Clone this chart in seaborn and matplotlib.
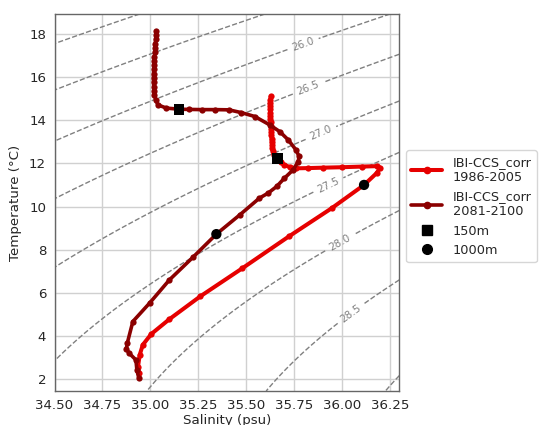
import numpy as np
import pandas as pd
import matplotlib
matplotlib.use("Agg")
import matplotlib.pyplot as plt
from matplotlib.lines import Line2D
import seaborn as sns

# ---------------- data ----------------
sal_hist = [35.628, 35.627, 35.626, 35.625, 35.625, 35.625, 35.626, 35.627, 35.628, 35.629,
            35.630, 35.631, 35.632, 35.633, 35.634, 35.636, 35.638, 35.640, 35.645, 35.664,
            35.680, 35.700, 35.730, 35.763, 35.824, 35.903, 35.999, 36.104, 36.182, 36.200,
            36.182, 36.116, 35.947, 35.723, 35.481, 35.260, 35.100, 35.005, 34.961, 34.945,
            34.936, 34.940]
temp_hist = [15.10, 14.95, 14.80, 14.65, 14.50, 14.35, 14.20, 14.05, 13.90, 13.75,
             13.60, 13.45, 13.30, 13.15, 13.00, 12.85, 12.70, 12.55, 12.40, 12.24,
             12.05, 11.93, 11.82, 11.77, 11.78, 11.80, 11.82, 11.85, 11.87, 11.80,
             11.55, 11.00, 9.92, 8.61, 7.14, 5.83, 4.78, 4.09, 3.59, 3.13,
             2.58, 2.30]

sal_fut = [35.032, 35.030, 35.028, 35.026, 35.025, 35.023, 35.022, 35.020, 35.019, 35.018,
           35.017, 35.017, 35.017, 35.018, 35.019, 35.022, 35.028, 35.040, 35.084, 35.150,
           35.200, 35.270, 35.340, 35.410, 35.476, 35.546, 35.624, 35.676, 35.720, 35.760,
           35.777, 35.772, 35.746, 35.700, 35.660, 35.615, 35.570, 35.467, 35.345, 35.223,
           35.100, 34.996, 34.909, 34.880, 34.875, 34.890, 34.925, 34.930, 34.940]
temp_fut = [18.15, 17.95, 17.75, 17.55, 17.35, 17.15, 16.95, 16.75, 16.55, 16.35,
            16.15, 15.95, 15.75, 15.55, 15.35, 15.15, 14.95, 14.71, 14.56, 14.51,
            14.50, 14.49, 14.49, 14.48, 14.35, 14.17, 13.78, 13.47, 13.09, 12.63,
            12.32, 12.08, 11.70, 11.31, 10.93, 10.62, 10.39, 9.61, 8.72, 7.65,
            6.60, 5.52, 4.67, 3.67, 3.40, 3.20, 2.89, 2.43, 2.05]

# depth markers: [historical, future]
sal_150m = [35.664, 35.150]
temp_150m = [12.24, 14.51]
sal_1000m = [36.116, 35.345]
temp_1000m = [11.00, 8.72]

labels = ["IBI-CCS_corr\n1986-2005", "IBI-CCS_corr\n2081-2100", "150m", "1000m"]
sigma_unlabelled = [25.0, 25.5, 29.0]
sigma_labelled = [26.0, 26.5, 27.0, 27.5, 28.0, 28.5]
label_pos = [(35.799, 17.49), (35.825, 15.49), (35.895, 13.32),
             (35.93, 10.99), (35.99, 8.30), (36.034, 5.21)]

col_hist = "#e60000"
col_fut = "#8b0000"


def sigma0(S, T):
    rho_w = (999.842594 + 6.793952e-2 * T - 9.095290e-3 * T**2 + 1.001685e-4 * T**3
             - 1.120083e-6 * T**4 + 6.536332e-9 * T**5)
    A = 0.824493 - 4.0899e-3 * T + 7.6438e-5 * T**2 - 8.2467e-7 * T**3 + 5.3875e-9 * T**4
    B = -5.72466e-3 + 1.0227e-4 * T - 1.6546e-6 * T**2
    C = 4.8314e-4
    return rho_w + A * S + B * S**1.5 + C * S**2 - 1000.0


sns.set_style("white")
plt.rcParams["font.family"] = ["DejaVu Sans"]
FS = 9.6
plt.rcParams["font.size"] = FS

fig = plt.figure(figsize=(5.44, 4.25), dpi=100)
ax = fig.add_axes([0.1002, 0.08, 0.6338, 0.887])

xlim = (34.5, 36.3)
ylim = (1.45, 18.92)
Sg, Tg = np.meshgrid(np.linspace(xlim[0], xlim[1], 200), np.linspace(ylim[0], ylim[1], 200))
Zg = sigma0(Sg, Tg)
ax.contour(Sg, Tg, Zg, levels=sigma_unlabelled, colors="gray",
           linestyles="dashed", linewidths=1.0)
cs = ax.contour(Sg, Tg, Zg, levels=sigma_labelled, colors="gray",
                linestyles="dashed", linewidths=1.0)
ax.clabel(cs, inline=True, fontsize=7.5, fmt="%.1f", manual=label_pos, inline_spacing=5)

df_h = pd.DataFrame({"S": sal_hist, "T": temp_hist})
df_f = pd.DataFrame({"S": sal_fut, "T": temp_fut})
sns.lineplot(data=df_h, x="S", y="T", sort=False, estimator=None, ax=ax, color=col_hist,
             linewidth=2.9, marker="o", markersize=4.5, markeredgewidth=0, zorder=3)
sns.lineplot(data=df_f, x="S", y="T", sort=False, estimator=None, ax=ax, color=col_fut,
             linewidth=2.6, marker="o", markersize=4.5, markeredgewidth=0, zorder=4)
sns.scatterplot(x=sal_150m, y=temp_150m, ax=ax, color="black", marker="s", s=60,
                edgecolor="none", zorder=5)
sns.scatterplot(x=sal_1000m, y=temp_1000m, ax=ax, color="black", marker="o", s=55,
                edgecolor="none", zorder=5)

ax.set_xlim(*xlim)
ax.set_ylim(*ylim)
ax.set_xticks([34.5, 34.75, 35.0, 35.25, 35.5, 35.75, 36.0, 36.25])
ax.set_xticklabels(["34.50", "34.75", "35.00", "35.25", "35.50", "35.75", "36.00", "36.25"])
ax.set_yticks([2, 4, 6, 8, 10, 12, 14, 16, 18])
ax.grid(True, color="#d0d0d0", linewidth=1.0)
ax.set_axisbelow(True)
for sp in ax.spines.values():
    sp.set_color("#666666")
    sp.set_linewidth(1.0)
ax.tick_params(axis="both", which="major", length=3.5, width=0.8, color="#444444",
               labelsize=FS, pad=2.5)
ax.set_xlabel("Salinity (psu)", fontsize=FS, labelpad=1)
ax.set_ylabel("Temperature (°C)", fontsize=FS, labelpad=5)

handles = [
    Line2D([], [], color=col_hist, linewidth=2.9, marker="o", markersize=4.5),
    Line2D([], [], color=col_fut, linewidth=2.6, marker="o", markersize=4.5),
    Line2D([], [], color="black", linestyle="none", marker="s", markersize=7),
    Line2D([], [], color="black", linestyle="none", marker="o", markersize=7),
]
ax.legend(handles, labels, loc="center left", bbox_to_anchor=(1.02, 0.49), fontsize=9.3,
          frameon=True, handlelength=2.4, handletextpad=0.8, borderpad=0.4,
          labelspacing=0.5, borderaxespad=0.0)

fig.savefig("out.png", dpi=100)
